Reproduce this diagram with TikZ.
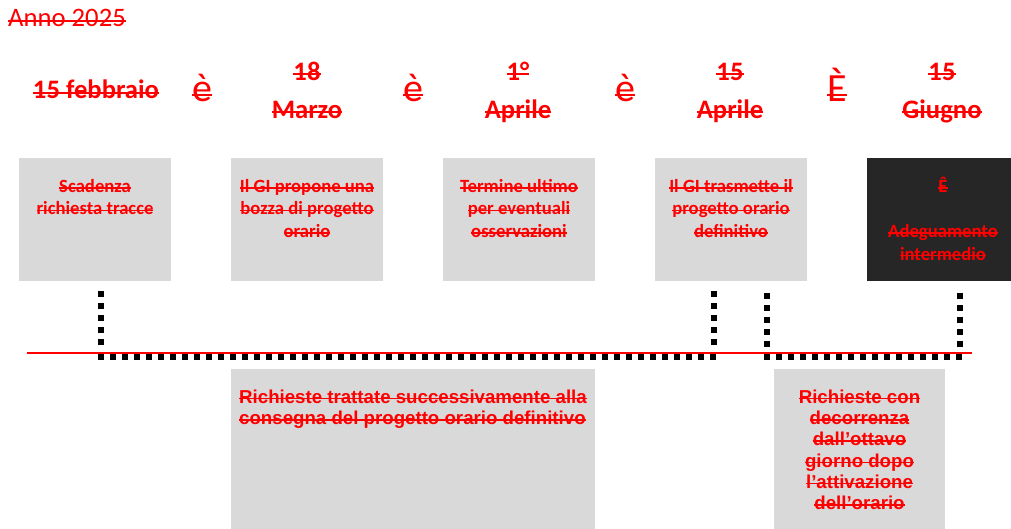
\documentclass[tikz,border=0pt]{standalone}
\usepackage{fontspec}
\setmainfont{Carlito}
\newfontfamily\arialf{Liberation Sans}
\newlength\strkw
\setlength\strkw{1.8pt}
\newcommand\strk[2][0.48ex]{\setbox0\hbox{#2}\rlap{\rule[\dimexpr#1-0.5\strkw\relax]{\wd0}{\strkw}}\box0}
\newcommand\sline[1]{\strut\strk{#1}}
\definecolor{boxgray}{HTML}{D9D9D9}
\definecolor{boxdark}{HTML}{262626}
\tikzset{
  yearfont/.style={font=\fontsize{26.67}{32}\selectfont, text=red, inner sep=0pt},
  datefont/.style={font=\fontsize{26.67}{38}\selectfont\bfseries, text=red, inner sep=0pt},
  arrowfont/.style={font=\fontsize{40}{48}\selectfont, text=red, inner sep=0pt},
  boxtext/.style={font=\fontsize{18.67}{22.6}\selectfont\bfseries\setlength\strkw{1.6pt}, text=red, inner sep=0pt, align=center, anchor=north},
  lowtext/.style={font=\arialf\fontsize{18.67}{21.3}\selectfont\bfseries\setlength\strkw{1.5pt}, text=red, inner sep=0pt, anchor=north},
  gbox/.style={fill=boxgray, draw=none, inner sep=0pt},
  dbox/.style={fill=boxdark, draw=none, inner sep=0pt},
  dots/.style={line width=6pt, dash pattern=on 6pt off 6pt},
  timeline/.style={red, line width=2pt}
}
\begin{document}
\begin{tikzpicture}[x=1pt,y=-1pt]
\useasboundingbox (0,0) rectangle (1011,529);
\clip (0,0) rectangle (1011,529);

% title
\node[yearfont, anchor=base west] (year) at (8,27) {\strk{Anno 2025}};

% dates
\node[datefont, anchor=base] (d1) at (96,99) {\strk{15 febbraio}};
\node[datefont, anchor=north, align=center] (d2) at (307,53.4) {\sline{18}\\\sline{Marzo}};
\node[datefont, anchor=north, align=center] (d3) at (518,53.4) {\sline{1°}\\\sline{Aprile}};
\node[datefont, anchor=north, align=center] (d4) at (730,53.4) {\sline{15}\\\sline{Aprile}};
\node[datefont, anchor=north, align=center] (d5) at (942,53.4) {\sline{15}\\\sline{Giugno}};

% arrows (glyphs)
\node[arrowfont, anchor=base] (a1) at (202,102) {\strk[0.38ex]{è}};
\node[arrowfont, anchor=base] (a2) at (413,102) {\strk[0.38ex]{è}};
\node[arrowfont, anchor=base] (a3) at (625,102) {\strk[0.38ex]{è}};
\node[arrowfont, anchor=base] (a4) at (837,102) {\strk[0.38ex]{È}};

% top boxes
\node[gbox, minimum width=152pt, minimum height=123pt] (b1) at (95,219.5) {};
\node[gbox, minimum width=152pt, minimum height=123pt] (b2) at (307,219.5) {};
\node[gbox, minimum width=152pt, minimum height=123pt] (b3) at (519,219.5) {};
\node[gbox, minimum width=152pt, minimum height=123pt] (b4) at (731,219.5) {};
\node[dbox, minimum width=144pt, minimum height=123pt] (b5) at (939,219.5) {};

\node[boxtext] (t1) at (95,176.2) {\sline{Scadenza}\\\sline{richiesta tracce}};
\node[boxtext] (t2) at (307,176.2) {\sline{Il GI propone una}\\\sline{bozza di progetto}\\\sline{orario}};
\node[boxtext] (t3) at (519,176.2) {\sline{Termine ultimo}\\\sline{per eventuali}\\\sline{osservazioni}};
\node[boxtext] (t4) at (731,176.2) {\sline{Il GI trasmette il}\\\sline{progetto orario}\\\sline{definitivo}};
\node[boxtext] (t5) at (943,176.2) {\sline{Ê}\\\strut\\\sline{Adeguamento}\\\sline{intermedio}};

% bottom boxes
\node[gbox, minimum width=364pt, minimum height=160pt] (bA) at (413,449) {};
\node[gbox, minimum width=171pt, minimum height=160pt] (bB) at (859.5,449) {};
\node[lowtext, anchor=north west, align=left] (tA) at (239,388.1) {\sline{Richieste trattate successivamente alla}\\\sline{consegna del progetto orario definitivo}};
\node[lowtext, align=center] (tB) at (859.5,388.1) {\sline{Richieste con}\\\sline{decorrenza}\\\sline{dall’ottavo}\\\sline{giorno dopo}\\\sline{l’attivazione}\\\sline{dell’orario}};

% dotted brackets
\coordinate (l1) at (101,291);
\coordinate (l2) at (101,345);
\coordinate (lh1) at (98,356.5);
\coordinate (lh2) at (716,356.5);
\coordinate (l3) at (714,291);
\coordinate (l4) at (714,345);
\coordinate (r1) at (767,293);
\coordinate (r2) at (767,347);
\coordinate (rh1) at (764,356.5);
\coordinate (rh2) at (962,356.5);
\coordinate (r3) at (960,293);
\coordinate (r4) at (960,347);
\draw[dots] (l1) -- (l2);
\draw[dots] (lh1) -- (lh2);
\draw[dots] (l3) -- (l4);
\draw[dots] (r1) -- (r2);
\draw[dots] (rh1) -- (rh2);
\draw[dots] (r3) -- (r4);

% timeline
\coordinate (tl) at (27,352.5);
\coordinate (tr) at (972,352.5);
\draw[timeline] (tl) -- (tr);
\end{tikzpicture}
\end{document}
